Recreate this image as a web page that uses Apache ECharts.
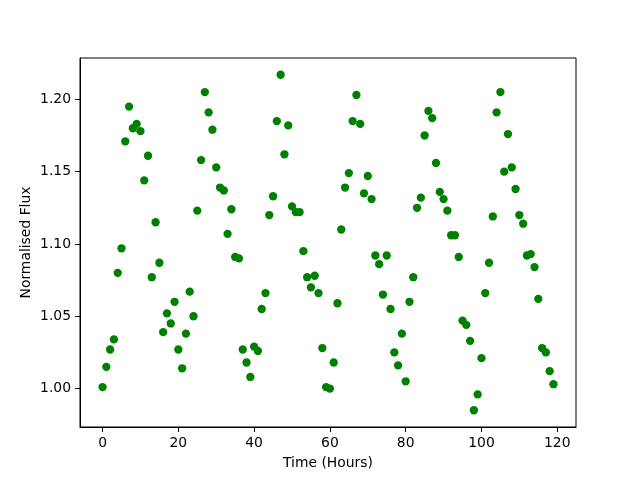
<!DOCTYPE html>
<html>
<head>
<meta charset="utf-8">
<script src="https://cdn.jsdelivr.net/npm/echarts@6/dist/echarts.min.js"></script>
<style>
  html, body { margin: 0; padding: 0; background: #fff; }
  #chart { width: 640px; height: 480px; }
</style>
</head>
<body>
<div id="chart"></div>
<script>
// hours of each sample
var hours = [
  0, 1, 2, 3, 4, 5, 6, 7, 8, 9, 10, 11, 12, 13, 14, 15, 16, 17, 18, 19,
  20, 21, 22, 23, 24, 25, 26, 27, 28, 29, 30, 31, 32, 33, 34, 35, 36, 37, 38, 39,
  40, 41, 42, 43, 44, 45, 46, 47, 48, 49, 50, 51, 52, 53, 54, 55, 56, 57, 58, 59,
  60, 61, 62, 63, 64, 65, 66, 67, 68, 69, 70, 71, 72, 73, 74, 75, 76, 77, 78, 79,
  80, 81, 82, 83, 84, 85, 86, 87, 88, 89, 90, 91, 92, 93, 94, 95, 96, 97, 98, 99,
  100, 101, 102, 103, 104, 105, 106, 107, 108, 109, 110, 111, 112, 113, 114, 115, 116, 117, 118, 119
];
// normalised flux
var flux = [
  1.001, 1.015, 1.027, 1.034, 1.080, 1.097, 1.171, 1.195, 1.180, 1.183,
  1.178, 1.144, 1.161, 1.077, 1.115, 1.087, 1.039, 1.052, 1.045, 1.060,
  1.027, 1.014, 1.038, 1.067, 1.050, 1.123, 1.158, 1.205, 1.191, 1.179,
  1.153, 1.139, 1.137, 1.107, 1.124, 1.091, 1.090, 1.027, 1.018, 1.008,
  1.029, 1.026, 1.055, 1.066, 1.120, 1.133, 1.185, 1.217, 1.162, 1.182,
  1.126, 1.122, 1.122, 1.095, 1.077, 1.070, 1.078, 1.066, 1.028, 1.001,
  1.000, 1.018, 1.059, 1.110, 1.139, 1.149, 1.185, 1.203, 1.183, 1.135,
  1.147, 1.131, 1.092, 1.086, 1.065, 1.092, 1.055, 1.025, 1.016, 1.038,
  1.005, 1.060, 1.077, 1.125, 1.132, 1.175, 1.192, 1.187, 1.156, 1.136,
  1.131, 1.123, 1.106, 1.106, 1.091, 1.047, 1.044, 1.033, 0.985, 0.996,
  1.021, 1.066, 1.087, 1.119, 1.191, 1.205, 1.150, 1.176, 1.153, 1.138,
  1.120, 1.114, 1.092, 1.093, 1.084, 1.062, 1.028, 1.025, 1.012, 1.003
];
var xTicks = [0, 20, 40, 60, 80, 100, 120];
var yTicks = [1.00, 1.05, 1.10, 1.15, 1.20];

var font = "DejaVu Sans";
var points = [];
hours.forEach(function (h, i) {
  points.push([h, flux[i]]);
});

var chart = echarts.init(document.getElementById("chart"), null, { renderer: "canvas" });
var option = {
  animation: false,
  backgroundColor: "#fff",
  grid: {
    left: 80,
    right: 64,
    top: 58,
    bottom: 53,
    show: true,
    borderColor: "#000",
    borderWidth: 1
  },
  xAxis: {
    type: "value",
    min: -5.95,
    max: 124.95,
    name: "Time (Hours)",
    nameLocation: "middle",
    nameGap: 29,
    nameMoveOverlap: false,
    nameTextStyle: { color: "#000", fontFamily: font, fontSize: 13.9 },
    axisLine: { onZero: false, lineStyle: { color: "#000", width: 1 } },
    axisTick: { show: true, length: 5, lineStyle: { color: "#000" }, customValues: xTicks },
    axisLabel: {
      color: "#000",
      fontFamily: font,
      fontSize: 13.9,
      margin: 9,
      customValues: xTicks
    },
    splitLine: { show: false }
  },
  yAxis: {
    type: "value",
    min: 0.9734,
    max: 1.2286,
    name: "Normalised Flux",
    nameLocation: "middle",
    nameGap: 47,
    nameMoveOverlap: false,
    nameTextStyle: { color: "#000", fontFamily: font, fontSize: 13.9 },
    axisLine: { show: true, onZero: false, lineStyle: { color: "#000", width: 1 } },
    axisTick: { show: true, length: 5, lineStyle: { color: "#000" }, customValues: yTicks },
    axisLabel: {
      color: "#000",
      fontFamily: font,
      fontSize: 13.9,
      margin: 9,
      customValues: yTicks,
      formatter: function (v) { return v.toFixed(2); }
    },
    splitLine: { show: false }
  },
  series: [
    {
      type: "scatter",
      data: points,
      symbol: "circle",
      symbolSize: 8.3,
      itemStyle: { color: "#008000", opacity: 1 }
    }
  ]
};
chart.setOption(option);
</script>
</body>
</html>
